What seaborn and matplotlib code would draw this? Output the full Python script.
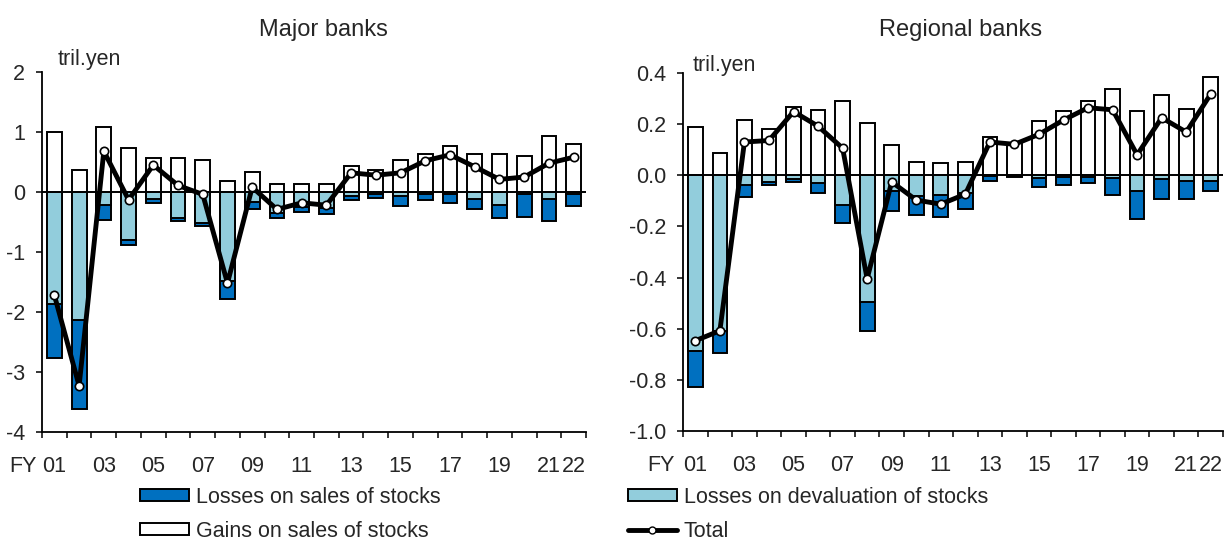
import numpy as np
import pandas as pd
import matplotlib
matplotlib.use('Agg')
import matplotlib.pyplot as plt
import seaborn as sns
from matplotlib.patches import Patch
from matplotlib.lines import Line2D
from matplotlib.ticker import FormatStrFormatter

sns.set_style('ticks')
plt.rcParams['font.family'] = ['Liberation Sans', 'DejaVu Sans']

# fiscal years FY2001 - FY2022
years = ['%02d' % y for y in range(1, 23)]
shown_years = ['01', '03', '05', '07', '09', '11', '13', '15', '17', '19', '21', '22']

# Major banks (tril. yen)
major_gains = [1.00, 0.37, 1.09, 0.73, 0.57, 0.57, 0.53, 0.19, 0.33, 0.13, 0.13,
               0.13, 0.43, 0.36, 0.53, 0.63, 0.76, 0.63, 0.63, 0.60, 0.93, 0.80]
major_deval = [-1.87, -2.13, -0.21, -0.80, -0.12, -0.44, -0.51, -1.49, -0.16, -0.35, -0.25,
               -0.27, -0.06, -0.04, -0.07, -0.04, -0.04, -0.11, -0.21, -0.04, -0.11, -0.04]
major_sales = [-0.89, -1.49, -0.26, -0.08, -0.06, -0.04, -0.06, -0.29, -0.12, -0.09, -0.09,
               -0.10, -0.08, -0.06, -0.16, -0.10, -0.14, -0.17, -0.23, -0.37, -0.37, -0.19]
major_total = [-1.72, -3.23, 0.68, -0.13, 0.45, 0.11, -0.04, -1.52, 0.08, -0.29, -0.18,
               -0.22, 0.32, 0.28, 0.32, 0.52, 0.62, 0.42, 0.21, 0.25, 0.48, 0.58]

# Regional banks (tril. yen)
regional_gains = [0.188, 0.086, 0.218, 0.179, 0.266, 0.257, 0.290, 0.203, 0.117, 0.052, 0.047,
                  0.053, 0.149, 0.127, 0.212, 0.252, 0.291, 0.338, 0.252, 0.313, 0.260, 0.384]
regional_deval = [-0.688, -0.610, -0.038, -0.026, -0.013, -0.031, -0.116, -0.496, -0.060, -0.083, -0.078,
                  -0.070, -0.003, -0.003, -0.010, -0.005, -0.005, -0.010, -0.062, -0.016, -0.022, -0.022]
regional_sales = [-0.141, -0.086, -0.048, -0.012, -0.012, -0.039, -0.070, -0.114, -0.080, -0.073, -0.087,
                  -0.062, -0.019, -0.003, -0.035, -0.033, -0.026, -0.068, -0.109, -0.078, -0.072, -0.039]
regional_total = [-0.647, -0.608, 0.130, 0.136, 0.249, 0.192, 0.106, -0.405, -0.026, -0.097, -0.113,
                  -0.074, 0.130, 0.121, 0.160, 0.216, 0.264, 0.256, 0.080, 0.225, 0.169, 0.318]

DARK = '#0070C0'
LIGHT = '#92CDDC'
FS = 15.5

fig = plt.figure(figsize=(12.25, 5.43), dpi=100)
ax1 = fig.add_axes([0.0343, 0.2044, 0.4441, 0.663])
ax2 = fig.add_axes([0.5576, 0.2063, 0.4408, 0.6593])


def draw_panel(ax, gains, deval, sales, total, ylim, yticks, fmt, title, title_xy, unit_xy, fy_x):
    df = pd.DataFrame({'year': years, 'gains': gains, 'deval': deval, 'sales': sales,
                       'total': total})
    df['neg'] = df['deval'] + df['sales']
    df['pos'] = np.arange(len(df))

    bar_kw = dict(edgecolor='black', linewidth=1.4, width=0.6, saturation=1,
                  errorbar=None, ax=ax, zorder=2)
    sns.barplot(data=df, x='year', y='gains', color='white', **bar_kw)
    sns.barplot(data=df, x='year', y='neg', color=DARK, **bar_kw)
    sns.barplot(data=df, x='year', y='deval', color=LIGHT, **bar_kw)

    ax.axhline(0, color='black', lw=1.4, zorder=3)

    sns.lineplot(data=df, x='pos', y='total', color='black', lw=3.5, marker='o',
                 markersize=6, markerfacecolor='white', markeredgecolor='black',
                 markeredgewidth=1.2, ax=ax, zorder=4)

    ax.set_xlim(-0.5, len(years) - 0.5)
    ax.set_ylim(*ylim)
    ax.set_yticks(np.round(yticks, 1) + 0.0)
    ax.yaxis.set_major_formatter(FormatStrFormatter(fmt))
    ax.tick_params(axis='y', direction='out', length=4, width=1.3, labelsize=FS, pad=8)

    # ticks at category boundaries, labels at centers
    ax.set_xticks(np.arange(-0.5, len(years), 1.0))
    ax.set_xticklabels([])
    ax.tick_params(axis='x', which='major', direction='out', length=4, width=1.3)
    ax.set_xticks([years.index(y) for y in shown_years], minor=True)
    ax.set_xticklabels(shown_years, minor=True)
    ax.tick_params(axis='x', which='minor', length=0, labelsize=FS, pad=17)
    ax.annotate('FY', xy=(fy_x, 0), xycoords=('data', 'axes fraction'),
                xytext=(0, -17), textcoords='offset points', ha='center', va='top',
                fontsize=FS, annotation_clip=False)

    ax.set_xlabel('')
    ax.set_ylabel('')
    for side in ['top', 'right']:
        ax.spines[side].set_visible(False)
    for side in ['left', 'bottom']:
        ax.spines[side].set_linewidth(1.3)
        ax.spines[side].set_color('black')

    ax.text(title_xy[0], title_xy[1], title, transform=ax.transAxes, ha='center',
            va='center', fontsize=17)
    ax.text(unit_xy[0], unit_xy[1], 'tril.yen', transform=ax.transAxes, ha='left',
            va='center', fontsize=FS)


draw_panel(ax1, major_gains, major_deval, major_sales, major_total,
           (-4, 2), np.arange(-4, 3, 1), '%d', 'Major banks',
           (0.517, 1.117), (0.029, 1.036), -1.27)
draw_panel(ax2, regional_gains, regional_deval, regional_sales, regional_total,
           (-1.0, 0.4), np.arange(-1.0, 0.41, 0.2), '%.1f', 'Regional banks',
           (0.513, 1.12), (0.017, 1.02), -1.4)

handles = [
    Patch(facecolor=DARK, edgecolor='black', linewidth=1.4),
    Patch(facecolor='white', edgecolor='black', linewidth=1.4),
    Patch(facecolor=LIGHT, edgecolor='black', linewidth=1.4),
    Line2D([], [], color='black', lw=3.5, marker='o', markersize=5,
           markerfacecolor='white', markeredgecolor='black'),
]
labels = ['Losses on sales of stocks', 'Gains on sales of stocks',
          'Losses on devaluation of stocks', 'Total']
fig.legend(handles, labels, loc='upper left', bbox_to_anchor=(0.114, 0.104), ncol=2,
           frameon=False, fontsize=FS, handlelength=2.3, handleheight=0.5,
           handletextpad=0.3, columnspacing=8.7, labelspacing=0.62,
           borderpad=0, borderaxespad=0)

fig.savefig('out.png', dpi=100)
